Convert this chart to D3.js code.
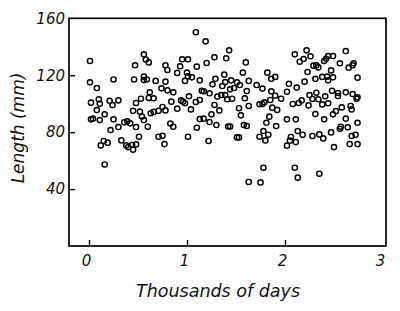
<!DOCTYPE html>
<html>
<head>
<meta charset="utf-8">
<script src="https://cdn.jsdelivr.net/npm/d3@7"></script>
<style>
  html, body { margin: 0; padding: 0; background: #fff; }
  svg text { font-family: "DejaVu Sans", sans-serif; font-style: italic; fill: #111; }
</style>
</head>
<body>
<svg id="chart" width="400" height="311"></svg>
<script>
// thousands of days
var days = [
  0.01, 0.01, 0.02, 0.02, 0.04, 0.08, 0.08, 0.10, 0.11, 0.11, 0.12, 0.15, 0.16, 0.16, 0.19,
  0.21, 0.22, 0.24, 0.25, 0.25, 0.30, 0.30, 0.33, 0.36, 0.38, 0.39, 0.40, 0.42, 0.44, 0.45,
  0.45, 0.46, 0.47, 0.48, 0.48, 0.48, 0.51, 0.52, 0.53, 0.54, 0.56, 0.56, 0.56, 0.56, 0.58,
  0.59, 0.61, 0.60, 0.61, 0.62, 0.63, 0.66, 0.66, 0.68, 0.71, 0.71, 0.75, 0.74, 0.75, 0.77,
  0.78, 0.78, 0.78, 0.80, 0.80, 0.83, 0.84, 0.86, 0.86, 0.90, 0.90, 0.93, 0.94, 0.95, 0.96,
  0.98, 0.98, 1.00, 1.01, 1.01, 1.02, 1.01, 1.04, 1.05, 1.10, 1.09, 1.10, 1.09, 1.13, 1.13,
  1.13, 1.15, 1.17, 1.17, 1.19, 1.20, 1.22, 1.23, 1.23, 1.25, 1.26, 1.28, 1.28, 1.29, 1.30,
  1.31, 1.33, 1.35, 1.36, 1.38, 1.39, 1.39, 1.40, 1.41, 1.43, 1.42, 1.44, 1.44, 1.45, 1.46,
  1.48, 1.51, 1.51, 1.53, 1.53, 1.54, 1.55, 1.57, 1.58, 1.59, 1.61, 1.60, 1.61, 1.63, 1.63,
  1.63, 1.71, 1.74, 1.74, 1.75, 1.77, 1.77, 1.78, 1.78, 1.79, 1.80, 1.81, 1.82, 1.83, 1.84,
  1.85, 1.86, 1.86, 1.87, 1.90, 1.90, 1.91, 1.92, 1.96, 2.02, 2.02, 2.02, 2.04, 2.05, 2.06,
  2.08, 2.10, 2.10, 2.11, 2.11, 2.12, 2.13, 2.13, 2.14, 2.15, 2.17, 2.18, 2.19, 2.20, 2.22,
  2.23, 2.24, 2.25, 2.26, 2.28, 2.28, 2.29, 2.31, 2.31, 2.32, 2.32, 2.34, 2.34, 2.35, 2.35,
  2.38, 2.38, 2.39, 2.40, 2.40, 2.41, 2.42, 2.43, 2.44, 2.44, 2.44, 2.47, 2.47, 2.48, 2.49,
  2.49, 2.49, 2.50, 2.52, 2.54, 2.54, 2.56, 2.56, 2.57, 2.58, 2.62, 2.62, 2.62, 2.64, 2.65,
  2.66, 2.67, 2.68, 2.69, 2.69, 2.70, 2.68, 2.72, 2.73, 2.74, 2.74, 2.74, 2.74
];
// length (mm)
var lengths = [
  130, 115, 100.7, 89, 89.5, 95.5, 111, 103, 100, 88.5, 70.7, 73.8, 92.5, 57.3, 72.6,
  102, 81.5, 99, 117, 89, 102.3, 83.6, 74.2, 86.9, 70.7, 87.6, 69.5, 86.2, 71, 95,
  67.7, 117, 127, 83.6, 71.4, 100.5, 76.8, 94.4, 103.5, 91, 119, 116.6, 88.5, 134.7, 131,
  117, 104, 83.8, 129, 108, 93.3, 103.8, 94.2, 116, 76.8, 95, 97.7, 110.8, 77.5, 71.6,
  115.5, 127, 95.3, 109.4, 123.7, 86, 101.4, 83.8, 108, 96.5, 121.6, 126.3, 102.3, 131.2, 101.4,
  116, 100.3, 121.8, 119.2, 131.2, 105.2, 76.8, 96, 118.5, 126, 150.2, 83.1, 101.2, 102.6, 116.4,
  89.2, 109.1, 89.5, 108.7, 143.8, 128.6, 73.8, 107.3, 87.1, 92.5, 113.6, 132.6, 99.1, 117.5, 85,
  105, 95.3, 106.1, 112.4, 120.4, 106.1, 115.2, 131.9, 103.1, 137.5, 84, 110.1, 84, 116.4, 103.5,
  111, 76.3, 115, 96.8, 76.3, 113.1, 91.8, 121.8, 85, 103.8, 84.3, 129, 108.9, 98.4, 45,
  116, 113.1, 99.6, 76.8, 44.7, 110.6, 99.8, 80.8, 55, 101, 74.2, 86.6, 121.8, 78.2, 90.9,
  102.6, 117.5, 108.7, 97.2, 118.8, 105.6, 84.3, 95.6, 103.5, 70.5, 89, 108.4, 114, 74, 76.6,
  99.8, 134.7, 55, 73, 89, 111.3, 48, 80.8, 100.5, 129.5, 102.3, 78.2, 131.4, 115.5, 137.5,
  122.3, 98.8, 106.1, 133.3, 103.3, 77.3, 126.7, 117.5, 92.7, 127, 107.7, 125.5, 103.1, 78.4, 50.8,
  118.8, 99.5, 75.6, 130, 89, 105.2, 131.6, 119, 116.4, 100.3, 133.5, 79.8, 123.4, 109.1, 133.5,
  118.5, 92.5, 69.5, 94.8, 105.4, 107.5, 82.4, 128.4, 83.8, 97.4, 89.5, 137, 108, 83.4, 125.3,
  71.6, 98.4, 96, 106.8, 127, 128.4, 77.3, 78.2, 103.5, 71.6, 104.5, 118.3, 86.6
];
var xTicks = [0, 1, 2, 3];
var yTicks = [40, 80, 120, 160];

var points = days.map(function (d, i) { return { day: d, len: lengths[i] }; });

var svg = d3.select("#chart");
var frameL = 69, frameR = 386, frameT = 18.3, frameB = 246;

var x = d3.scaleLinear().domain([0, 3]).range([89, 383]);
var y = d3.scaleLinear().domain([0, 160]).range([frameB, frameT]);

// frame
svg.append("rect")
    .attr("x", frameL).attr("y", frameT)
    .attr("width", frameR - frameL).attr("height", frameB - frameT)
    .attr("fill", "none").attr("stroke", "#000").attr("stroke-width", 1.7);

// axes with inward ticks
var xAxis = svg.append("g")
    .attr("transform", "translate(0," + frameB + ")")
    .call(d3.axisBottom(x).tickValues(xTicks).tickSize(-6).tickPadding(9).tickFormat(d3.format("d")));
var yAxis = svg.append("g")
    .attr("transform", "translate(" + frameL + ",0)")
    .call(d3.axisLeft(y).tickValues(yTicks).tickSize(-6).tickPadding(4).tickFormat(d3.format("d")));

[xAxis, yAxis].forEach(function (g) {
  g.select(".domain").remove();
  g.selectAll(".tick line").attr("stroke", "#000").attr("stroke-width", 1.4);
  g.selectAll(".tick text")
      .attr("fill", "#000")
      .style("font-size", "15px")
      .style("font-family", "DejaVu Sans, sans-serif")
      .style("font-style", "italic");
});
xAxis.selectAll(".tick text").attr("dx", "-3");
xAxis.selectAll(".tick").filter(function (d) { return d === 3; }).select("line").remove();
yAxis.selectAll(".tick").filter(function (d) { return d === 160; }).select("line").remove();

// markers
svg.append("g")
  .selectAll("circle")
  .data(points)
  .join("circle")
    .attr("cx", function (d) { return x(d.day); })
    .attr("cy", function (d) { return y(d.len); })
    .attr("r", 2.6)
    .attr("fill", "none")
    .attr("stroke", "#000")
    .attr("stroke-width", 1.45);

// titles
svg.append("text")
    .attr("x", 218).attr("y", 297)
    .attr("text-anchor", "middle")
    .attr("fill", "#000")
    .style("font-size", "17.5px")
    .text("Thousands of days");

svg.append("text")
    .attr("transform", "translate(24,128) rotate(-90)")
    .attr("text-anchor", "middle")
    .attr("fill", "#000")
    .style("font-size", "17px")
    .text("Length (mm)");
</script>
</body>
</html>
